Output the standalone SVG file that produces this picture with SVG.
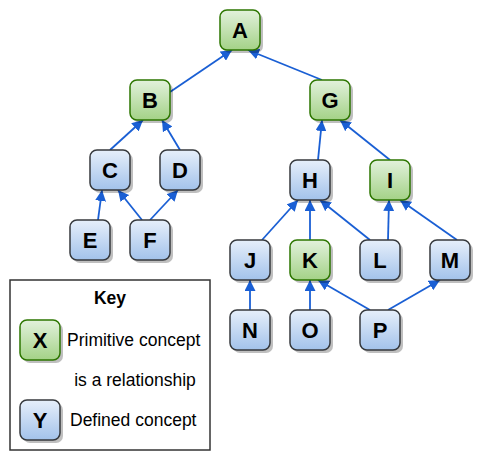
<svg xmlns="http://www.w3.org/2000/svg" width="497" height="470" viewBox="0 0 497 470">
<style>
.g rect.b{fill:url(#gg);stroke:#2d7600;stroke-width:1.5}
.d rect.b{fill:url(#bg);stroke:#36393d;stroke-width:1.5}
rect.s{fill:#000;opacity:0.25}
.n text{font-family:"Liberation Sans",Arial,sans-serif;font-weight:bold;font-size:22px;text-anchor:middle;fill:#000}
#edges line{stroke:#1a5fd4;stroke-width:1.8;marker-end:url(#ah)}
.t{font-family:"Liberation Sans",Arial,sans-serif;font-size:17.5px;fill:#000}
</style>
<defs>
<linearGradient id="gg" x1="0" y1="0" x2="0" y2="1"><stop offset="0" stop-color="#e2f1dc"/><stop offset="1" stop-color="#a4d287"/></linearGradient>
<linearGradient id="bg" x1="0" y1="0" x2="0" y2="1"><stop offset="0" stop-color="#e6effb"/><stop offset="1" stop-color="#a3c2ea"/></linearGradient>
<marker id="ah" viewBox="0 0 12 12" refX="12" refY="6" markerWidth="11" markerHeight="11" markerUnits="userSpaceOnUse" orient="auto"><path d="M0,0 L12,6 L0,12 z" fill="#1a5fd4"/></marker>
</defs>
<rect width="497" height="470" fill="#fff"/>
<g id="edges">
<line x1="170" y1="92" x2="232" y2="50"/>
<line x1="322" y1="80" x2="248" y2="50"/>
<line x1="110" y1="150" x2="143" y2="120"/>
<line x1="180" y1="150" x2="162" y2="120"/>
<line x1="318" y1="160" x2="322" y2="120"/>
<line x1="390" y1="160" x2="340" y2="120"/>
<line x1="98" y1="220" x2="102" y2="190"/>
<line x1="142" y1="220" x2="118" y2="190"/>
<line x1="150" y1="220" x2="178" y2="190"/>
<line x1="262" y1="240" x2="298" y2="200"/>
<line x1="310" y1="240" x2="310" y2="200"/>
<line x1="370" y1="240" x2="320" y2="200"/>
<line x1="388" y1="240" x2="389" y2="200"/>
<line x1="457" y1="240" x2="400" y2="200"/>
<line x1="250" y1="310" x2="250" y2="280"/>
<line x1="310" y1="310" x2="310" y2="280"/>
<line x1="370" y1="310" x2="318" y2="280"/>
<line x1="388" y1="310" x2="440" y2="280"/>
<line x1="40" y1="400" x2="40" y2="360"/>
</g>
<g id="nA" class="n g"><rect class="s" x="223" y="13" width="40" height="40" rx="7"/><rect class="b" x="220" y="10" width="40" height="40" rx="7"/><text x="240" y="38">A</text></g>
<g id="nB" class="n g"><rect class="s" x="133" y="83" width="40" height="40" rx="7"/><rect class="b" x="130" y="80" width="40" height="40" rx="7"/><text x="150" y="108">B</text></g>
<g id="nG" class="n g"><rect class="s" x="313" y="83" width="40" height="40" rx="7"/><rect class="b" x="310" y="80" width="40" height="40" rx="7"/><text x="330" y="108">G</text></g>
<g id="nC" class="n d"><rect class="s" x="93" y="153" width="40" height="40" rx="7"/><rect class="b" x="90" y="150" width="40" height="40" rx="7"/><text x="110" y="178">C</text></g>
<g id="nD" class="n d"><rect class="s" x="163" y="153" width="40" height="40" rx="7"/><rect class="b" x="160" y="150" width="40" height="40" rx="7"/><text x="180" y="178">D</text></g>
<g id="nH" class="n d"><rect class="s" x="293" y="163" width="40" height="40" rx="7"/><rect class="b" x="290" y="160" width="40" height="40" rx="7"/><text x="310" y="188">H</text></g>
<g id="nI" class="n g"><rect class="s" x="373" y="163" width="40" height="40" rx="7"/><rect class="b" x="370" y="160" width="40" height="40" rx="7"/><text x="390" y="188">I</text></g>
<g id="nE" class="n d"><rect class="s" x="73" y="223" width="40" height="40" rx="7"/><rect class="b" x="70" y="220" width="40" height="40" rx="7"/><text x="90" y="248">E</text></g>
<g id="nF" class="n d"><rect class="s" x="133" y="223" width="40" height="40" rx="7"/><rect class="b" x="130" y="220" width="40" height="40" rx="7"/><text x="150" y="248">F</text></g>
<g id="nJ" class="n d"><rect class="s" x="233" y="243" width="40" height="40" rx="7"/><rect class="b" x="230" y="240" width="40" height="40" rx="7"/><text x="250" y="268">J</text></g>
<g id="nK" class="n g"><rect class="s" x="293" y="243" width="40" height="40" rx="7"/><rect class="b" x="290" y="240" width="40" height="40" rx="7"/><text x="310" y="268">K</text></g>
<g id="nL" class="n d"><rect class="s" x="363" y="243" width="40" height="40" rx="7"/><rect class="b" x="360" y="240" width="40" height="40" rx="7"/><text x="380" y="268">L</text></g>
<g id="nM" class="n d"><rect class="s" x="433" y="243" width="40" height="40" rx="7"/><rect class="b" x="430" y="240" width="40" height="40" rx="7"/><text x="450" y="268">M</text></g>
<g id="nN" class="n d"><rect class="s" x="233" y="313" width="40" height="40" rx="7"/><rect class="b" x="230" y="310" width="40" height="40" rx="7"/><text x="250" y="338">N</text></g>
<g id="nO" class="n d"><rect class="s" x="293" y="313" width="40" height="40" rx="7"/><rect class="b" x="290" y="310" width="40" height="40" rx="7"/><text x="310" y="338">O</text></g>
<g id="nP" class="n d"><rect class="s" x="363" y="313" width="40" height="40" rx="7"/><rect class="b" x="360" y="310" width="40" height="40" rx="7"/><text x="380" y="338">P</text></g>
<g id="key">
<rect x="10" y="280" width="200" height="170" fill="#fff" stroke="#333" stroke-width="1.5"/>
<text class="t" x="110" y="304" text-anchor="middle" font-weight="bold" font-size="17px">Key</text>
<text class="t" x="67" y="346">Primitive concept</text>
<text class="t" x="135" y="386" text-anchor="middle">is a relationship</text>
<text class="t" x="70" y="426">Defined concept</text>
</g>
<g id="nX" class="n g"><rect class="s" x="23" y="323" width="40" height="40" rx="7"/><rect class="b" x="20" y="320" width="40" height="40" rx="7"/><text x="40" y="348">X</text></g>
<g id="nY" class="n d"><rect class="s" x="23" y="403" width="40" height="40" rx="7"/><rect class="b" x="20" y="400" width="40" height="40" rx="7"/><text x="40" y="428">Y</text></g>
</svg>
